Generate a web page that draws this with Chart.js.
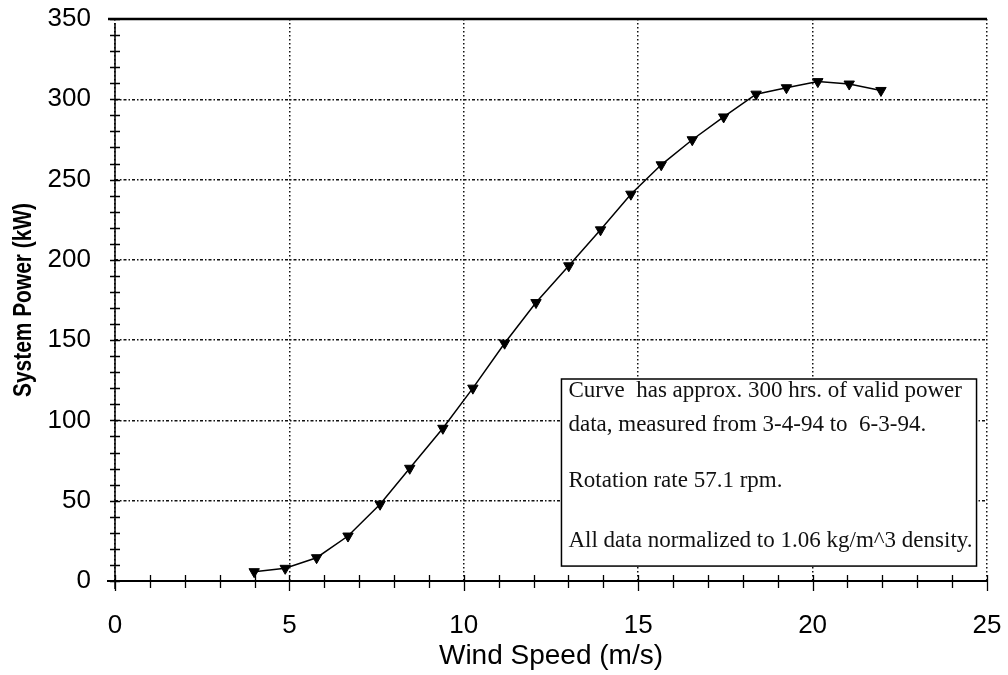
<!DOCTYPE html>
<html>
<head>
<meta charset="utf-8">
<script src="https://cdn.jsdelivr.net/npm/chart.js@4/dist/chart.umd.min.js"></script>
<style>
  html, body { margin: 0; padding: 0; background: #fff; }
  #wrap { width: 1008px; height: 675px; }
</style>
</head>
<body>
<div id="wrap"><canvas id="c" width="1008" height="675"></canvas></div>
<script>
// Measured power curve: wind speed bins (m/s) and mean system power (kW)
const windSpeed   = [3.99, 4.88, 5.78, 6.68, 7.60, 8.45, 9.40, 10.26, 11.17, 12.07, 13.01,
                     13.92, 14.79, 15.66, 16.55, 17.45, 18.38, 19.25, 20.15, 21.05, 21.96];
const systemPower = [5.8, 7.9, 14.5, 28.0, 47.8, 70.2, 95.1, 120.1, 148.1, 173.4, 196.3,
                     218.7, 240.9, 259.2, 274.8, 289.0, 303.2, 307.2, 311.0, 309.5, 305.5];

// Axis ranges and labelled ticks
const xTicks = [0, 5, 10, 15, 20, 25];
const yTicks = [0, 50, 100, 150, 200, 250, 300, 350];
const xMinorStep = 1;
const yMinorStep = 10;

const xTitle = 'Wind Speed (m/s)';
const yTitle = 'System Power (kW)';

// Note box contents and its extent in data units (x0, x1, yTop, yBottom)
const noteLines = [
  'Curve  has approx. 300 hrs. of valid power',
  'data, measured from 3-4-94 to  6-3-94.',
  'Rotation rate 57.1 rpm.',
  'All data normalized to 1.06 kg/m^3 density.'
];
const noteBox = [12.8, 24.7, 125.8, 9.3];

const points = windSpeed.map((x, i) => ({ x, y: systemPower[i] }));

const sans = '"Liberation Sans", Arial, sans-serif';

// Frame, minor ticks, condensed y title and the note box
const framePlugin = {
  id: 'frame',
  afterDatasetsDraw(chart) {
    const { ctx, chartArea: a, scales: { x, y } } = chart;
    ctx.save();
    ctx.strokeStyle = '#000';
    // heavy top rule
    ctx.lineWidth = 2.5;
    ctx.beginPath();
    ctx.moveTo(a.left - 7, a.top);
    ctx.lineTo(a.right, a.top);
    ctx.stroke();
    // x axis line and y axis line
    ctx.lineWidth = 2;
    ctx.beginPath();
    ctx.moveTo(a.left - 8, a.bottom);
    ctx.lineTo(a.right, a.bottom);
    ctx.stroke();
    ctx.lineWidth = 1.5;
    ctx.beginPath();
    ctx.moveTo(a.left, a.top + 4);
    ctx.lineTo(a.left, a.bottom + 8);
    ctx.stroke();
    // minor tick crosses along both axes
    ctx.lineWidth = 1.3;
    ctx.beginPath();
    for (let v = x.min; v <= x.max; v += xMinorStep) {
      const px = Math.round(x.getPixelForValue(v)) + 0.5;
      const major = v % 5 === 0;
      ctx.moveTo(px, a.bottom - 6);
      ctx.lineTo(px, a.bottom + (major ? 10 : 7));
    }
    for (let v = y.min; v <= y.max; v += yMinorStep) {
      const py = Math.round(y.getPixelForValue(v)) + 0.5;
      ctx.moveTo(a.left - 5, py);
      ctx.lineTo(a.left + 5, py);
    }
    ctx.stroke();
    ctx.restore();
  },
  afterDraw(chart) {
    const { ctx, chartArea: a, scales: { x, y } } = chart;

    // y axis title, bold and horizontally condensed
    ctx.save();
    ctx.translate(24, (a.top + a.bottom) / 2);
    ctx.rotate(-Math.PI / 2);
    ctx.font = 'bold 25px ' + sans;
    const w = ctx.measureText(yTitle).width;
    ctx.scale(194 / w, 1);
    ctx.fillStyle = '#000';
    ctx.textAlign = 'center';
    ctx.textBaseline = 'middle';
    ctx.fillText(yTitle, 0, 0);
    ctx.restore();

    // note box
    const left = x.getPixelForValue(noteBox[0]);
    const right = x.getPixelForValue(noteBox[1]);
    const top = y.getPixelForValue(noteBox[2]);
    const bottom = y.getPixelForValue(noteBox[3]);
    ctx.save();
    ctx.fillStyle = '#fff';
    ctx.fillRect(left, top, right - left, bottom - top);
    ctx.strokeStyle = '#000';
    ctx.lineWidth = 1.5;
    ctx.strokeRect(left, top, right - left, bottom - top);
    ctx.fillStyle = '#111';
    ctx.font = '23px "Liberation Serif", "Times New Roman", serif';
    ctx.textBaseline = 'alphabetic';
    ctx.textAlign = 'left';
    const baselines = [18, 52, 108, 168];
    noteLines.forEach((t, i) => ctx.fillText(t, left + 7, top + baselines[i]));
    ctx.restore();
  }
};

new Chart(document.getElementById('c'), {
  type: 'scatter',
  data: {
    datasets: [{
      data: points,
      showLine: true,
      borderColor: '#000',
      borderWidth: 1.5,
      tension: 0,
      pointStyle: 'triangle',
      rotation: 180,
      radius: 6,
      pointBackgroundColor: '#000',
      pointBorderColor: '#000',
      pointBorderWidth: 1
    }]
  },
  options: {
    responsive: false,
    devicePixelRatio: 1,
    animation: false,
    events: [],
    layout: { padding: 0 },
    plugins: { legend: { display: false }, tooltip: { enabled: false } },
    scales: {
      x: {
        type: 'linear',
        min: xTicks[0],
        max: xTicks[xTicks.length - 1],
        afterFit(s) { s.height = 94; s.paddingLeft = 0; s.paddingRight = 21; },
        afterBuildTicks(s) { s.ticks = xTicks.map(v => ({ value: v })); },
        grid: { color: '#111', lineWidth: 1.5, drawTicks: false },
        border: { display: false, dash: [1.5, 2.5] },
        ticks: { color: '#000', padding: 29, font: { family: sans, size: 26 }, maxRotation: 0 },
        title: {
          display: true, text: xTitle, color: '#000',
          font: { family: sans, size: 28, lineHeight: 1.2 }, padding: { top: 0, bottom: 2 }
        }
      },
      y: {
        type: 'linear',
        min: yTicks[0],
        max: yTicks[yTicks.length - 1],
        afterFit(s) { s.width = 115; s.paddingTop = 19; s.paddingBottom = 0; },
        afterBuildTicks(s) { s.ticks = yTicks.map(v => ({ value: v })); },
        grid: { color: '#111', lineWidth: 1.5, drawTicks: false },
        border: { display: false, dash: [3, 2, 1.5, 2] },
        ticks: { color: '#000', padding: 24, font: { family: sans, size: 26 } },
        title: { display: false }
      }
    }
  },
  plugins: [framePlugin]
});
</script>
</body>
</html>
